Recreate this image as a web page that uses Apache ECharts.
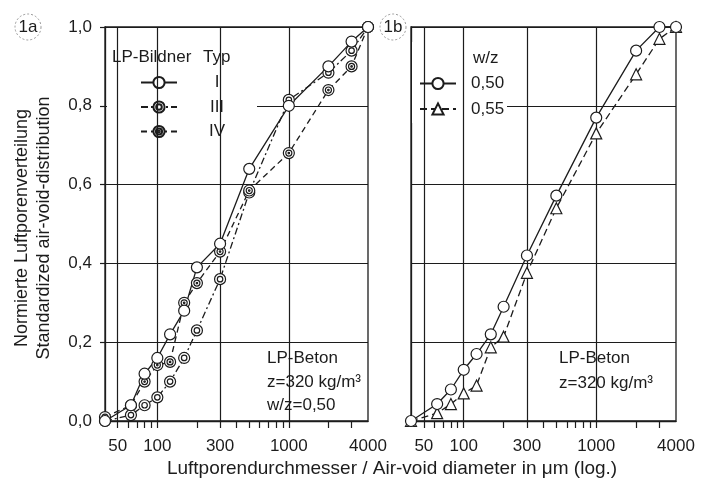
<!DOCTYPE html>
<html>
<head>
<meta charset="utf-8">
<script src="https://cdn.jsdelivr.net/npm/echarts@6/dist/echarts.min.js"></script>
<style>
html, body { margin: 0; padding: 0; background: #fff; }
#chart { width: 710px; height: 486px; }
</style>
</head>
<body>
<div id="chart"></div>
<script>
// Luftporendurchmesser in µm (Klassen)
var sizes = [40, 63, 80, 100, 125, 160, 200, 300, 500, 1000, 2000, 3000, 4000];

// Bild 1a: LP-Bildner Typ I / III / IV
var typI   = [0.00, 0.04, 0.12, 0.16, 0.22, 0.28, 0.39, 0.45, 0.64, 0.80, 0.90, 0.963, 1.00];
var typIII = [0.00, 0.015, 0.04, 0.06, 0.10, 0.16, 0.23, 0.36, 0.58, 0.815, 0.884, 0.94, 1.00];
var typIV  = [0.01, 0.04, 0.10, 0.142, 0.15, 0.30, 0.35, 0.43, 0.585, 0.68, 0.84, 0.90, 1.00];

// Bild 1b: w/z 0,50 und 0,55
var wz050 = [0.00, 0.043, 0.08, 0.13, 0.17, 0.22, 0.29, 0.42, 0.572, 0.77, 0.94, 1.00, 1.00];
var wz055 = [0.00, 0.02, 0.043, 0.07, 0.09, 0.187, 0.214, 0.376, 0.54, 0.73, 0.88, 0.97, 1.00];

// Achsen
var xLabels = [50, 100, 300, 1000, 4000];
var xGridVals = [50, 100, 300, 1000];
var xTicks = [50, 60, 70, 80, 90, 100, 200, 300, 400, 500, 600, 700, 800, 900, 1000, 2000, 3000];

var ink = '#1c1c1c';
var font = '"Liberation Sans", Arial, sans-serif';

// Doppelkreis (III) und Kreis mit Punkt (IV)
var ringSym = 'path://M0,10A10,10,0,1,1,20,10A10,10,0,1,1,0,10ZM5,10A5,5,0,1,1,15,10A5,5,0,1,1,5,10Z';
var dotSym = 'path://M0,10A10,10,0,1,1,20,10A10,10,0,1,1,0,10ZM4.5,10A5.5,5.5,0,1,1,15.5,10A5.5,5.5,0,1,1,4.5,10Z' +
    'M8.6,10A1.4,1.4,0,1,1,11.4,10A1.4,1.4,0,1,1,8.6,10Z';

function pts(vals) {
    return sizes.map(function (s, i) { return [s, vals[i]]; });
}

function dataSeries(name, vals, symbol, size, dash, gi) {
    return {
        name: name,
        type: 'line',
        xAxisIndex: gi,
        yAxisIndex: gi,
        data: pts(vals),
        symbol: symbol,
        symbolSize: size,
        symbolKeepAspect: true,
        showAllSymbol: true,
        clip: false,
        z: 5,
        lineStyle: { color: ink, width: 1.3, type: dash },
        itemStyle: { color: '#fff', borderColor: ink, borderWidth: 1.2 },
        emphasis: { disabled: true }
    };
}

// senkrechte Gitterlinien bei 50, 100, 300, 1000
function gridLines(gi) {
    return {
        name: 'grid' + gi,
        type: 'line',
        xAxisIndex: gi,
        yAxisIndex: gi,
        data: [],
        silent: true,
        z: 1,
        markLine: {
            silent: true,
            symbol: 'none',
            animation: false,
            label: { show: false },
            lineStyle: { color: ink, width: 1.2, type: 'solid' },
            data: xGridVals.map(function (v) { return { xAxis: v }; })
        }
    };
}

function xAxis(gi) {
    return {
        type: 'log',
        logBase: 10,
        gridIndex: gi,
        min: 40,
        max: 4000,
        axisLine: { show: true, lineStyle: { color: ink, width: 1.3 } },
        axisTick: { show: true, inside: false, length: 7, customValues: xTicks, lineStyle: { color: ink, width: 1.2 } },
        minorTick: { show: false },
        axisLabel: {
            customValues: xLabels,
            formatter: function (v) { return String(Math.round(v)); },
            margin: 17, fontSize: 17, color: ink, fontFamily: font
        },
        splitLine: { show: false }
    };
}

function yAxis(gi, labels) {
    return {
        type: 'value',
        gridIndex: gi,
        min: 0,
        max: 1,
        interval: 0.2,
        axisLine: { show: true, lineStyle: { color: ink, width: 1.3 } },
        axisTick: { show: labels, inside: false, length: 5, lineStyle: { color: ink, width: 1.2 } },
        axisLabel: {
            show: labels,
            formatter: function (v) { return v.toFixed(1).replace('.', ','); },
            margin: 13, fontSize: 17, color: ink, fontFamily: font
        },
        splitLine: { show: true, lineStyle: { color: ink, width: 1.2 } }
    };
}

function txt(x, y, s, size, align) {
    return {
        type: 'text', x: x, y: y, z: 6, silent: true,
        style: {
            text: s, fill: ink, font: size + 'px ' + font,
            align: align || 'left', verticalAlign: 'middle',
            textAlign: align || 'left', textVerticalAlign: 'middle'
        }
    };
}

function whiteBox(x, y, w, h) {
    return { type: 'rect', z: 3, silent: true, shape: { x: x, y: y, width: w, height: h }, style: { fill: '#fff' } };
}

function badge(cx, cy, s) {
    return [
        { type: 'circle', z: 6, silent: true, shape: { cx: cx, cy: cy, r: 13 },
          style: { fill: 'none', stroke: '#9a9a9a', lineWidth: 1, lineDash: [2, 2] } },
        txt(cx, cy, s, 17, 'center')
    ];
}

var chart = echarts.init(document.getElementById('chart'));

var option = {
    backgroundColor: '#fff',
    animation: false,
    grid: [
        { left: 105, top: 27, width: 263, height: 394, show: true, borderColor: ink, borderWidth: 1.3, backgroundColor: '#fff' },
        { left: 411, top: 27, width: 265, height: 394, show: true, borderColor: ink, borderWidth: 1.3, backgroundColor: '#fff' }
    ],
    xAxis: [xAxis(0), xAxis(1)],
    yAxis: [yAxis(0, true), yAxis(1, false)],
    legend: [
        {
            data: ['I', 'III', 'IV'],
            orient: 'vertical', left: 140, top: 74, padding: 0,
            itemWidth: 36, itemHeight: 14, itemGap: 7.5,
            selectedMode: false,
            formatter: function (n) { return '{n|' + n + '}'; },
            textStyle: { rich: { n: { width: 70, align: 'center', fontSize: 17, lineHeight: 14, color: ink, fontFamily: font } } }
        },
        {
            data: ['0,50', '0,55'],
            orient: 'vertical', left: 419, top: 75, padding: 0,
            itemWidth: 36, itemHeight: 14, itemGap: 8.5,
            selectedMode: false,
            formatter: function (n) { return '{n|' + n + '}'; },
            textStyle: { rich: { n: { padding: [0, 0, 0, 10], fontSize: 17, lineHeight: 14, color: ink, fontFamily: font } } }
        }
    ],
    series: [
        gridLines(0),
        gridLines(1),
        dataSeries('III', typIII, ringSym, 11, [7, 3, 2, 3], 0),
        dataSeries('IV', typIV, dotSym, 11, [6, 4], 0),
        dataSeries('I', typI, 'circle', 11, 'solid', 0),
        dataSeries('0,55', wz055, 'triangle', 11, [7, 4], 1),
        dataSeries('0,50', wz050, 'circle', 11, 'solid', 1)
    ],
    graphic: [
        // Legenden- und Textfelder unterbrechen das Gitter
        whiteBox(107, 34, 150, 109),
        whiteBox(412, 42, 95, 81),
        whiteBox(262, 345, 104, 74),
        whiteBox(553, 345, 121, 55),
        txt(112, 57, 'LP-Bildner', 17),
        txt(203, 57, 'Typ', 17),
        txt(473, 58, 'w/z', 17),
        txt(267, 358, 'LP-Beton', 17),
        txt(267, 382, 'z=320 kg/m³', 17),
        txt(267, 405, 'w/z=0,50', 17),
        txt(559, 358, 'LP-Beton', 17),
        txt(559, 383, 'z=320 kg/m³', 17),
        txt(392, 469, 'Luftporendurchmesser / Air-void diameter in μm (log.)', 19, 'center'),
        {
            type: 'text', x: 33, y: 228, rotation: Math.PI / 2, z: 6, silent: true,
            style: {
                text: 'Normierte Luftporenverteilung\nStandardized air-void-distribution',
                fill: ink, font: '18px ' + font, lineHeight: 22,
                align: 'center', verticalAlign: 'middle', textAlign: 'center', textVerticalAlign: 'middle'
            }
        }
    ].concat(badge(28, 27, '1a'), badge(393, 27, '1b'))
};

chart.setOption(option);
</script>
</body>
</html>
